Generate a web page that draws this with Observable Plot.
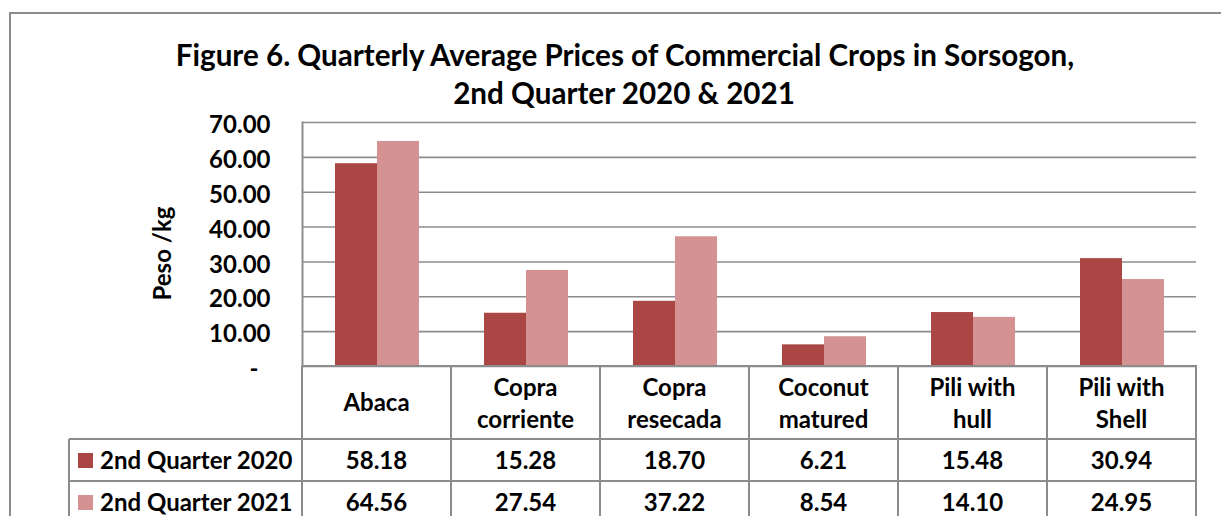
<!DOCTYPE html>
<html>
<head>
<meta charset="utf-8">
<script src="https://cdn.jsdelivr.net/npm/d3@7"></script>
<script src="https://cdn.jsdelivr.net/npm/@observablehq/plot@0.6"></script>
<style>
  body { margin: 0; background: #fff; }
  #wrap { position: relative; width: 1221px; height: 516px; overflow: hidden; font-family: Lato, "Open Sans", sans-serif; font-weight: bold; color: #000; background:#fff; }
  #border { position: absolute; left: 9px; top: 12px; width: 1300px; height: 700px; border: 2px solid #8c8c8c; box-sizing: border-box; }
  .t { position: absolute; white-space: nowrap; line-height: 1.2; }
  .hl { position: absolute; height: 2px; background: #8c8c8c; }
  .vl { position: absolute; width: 2px; background: #8c8c8c; }
  #chart { position: absolute; left: 0; top: 0; }
</style>
</head>
<body>
<div id="wrap">
  <div id="border"></div>
  <div id="chart"></div>
</div>
<script>
// ---- data ----
const titleLines = ["Figure 6. Quarterly Average Prices of Commercial Crops in Sorsogon,", "2nd Quarter 2020 & 2021"];
const yLabel = "Peso /kg";
const categories = ["Abaca", "Copra corriente", "Copra resecada", "Coconut matured", "Pili with hull", "Pili with Shell"];
const categoryLines = [["Abaca"], ["Copra", "corriente"], ["Copra", "resecada"], ["Coconut", "matured"], ["Pili with", "hull"], ["Pili with", "Shell"]];
const seriesNames = ["2nd Quarter 2020", "2nd Quarter 2021"];
const q2020 = [58.18, 15.28, 18.70, 6.21, 15.48, 30.94];
const q2021 = [64.56, 27.54, 37.22, 8.54, 14.10, 24.95];
const yTicks = [0, 10, 20, 30, 40, 50, 60, 70];
const colors = ["#AA4643", "#D49392"];

// ---- build ----
const rows = categories.flatMap((c, i) => [
  {cat: c, series: seriesNames[0], v: q2020[i]},
  {cat: c, series: seriesNames[1], v: q2021[i]}
]);

const FONT = 24;
const TITLE = 29.6;
const chart = Plot.plot({
  width: 1221,
  height: 400,
  marginLeft: 302,
  marginRight: 25,
  marginTop: 122,
  marginBottom: 34,
  style: {fontFamily: "Lato, 'Open Sans', sans-serif", fontWeight: "bold", fontSize: FONT + "px", color: "#000", background: "transparent"},
  x: {domain: categories, padding: 0, axis: null},
  y: {domain: [0, 70], axis: null},
  color: {domain: seriesNames, range: colors},
  marks: [
    Plot.ruleY(yTicks, {stroke: "#8c8c8c", strokeWidth: 1.6}),
    Plot.frame({anchor: "left", stroke: "#8c8c8c", strokeWidth: 2}),
    Plot.barY(rows.filter(d => d.series === seriesNames[0]), {x: "cat", y: "v", fill: "series", insetLeft: 33, insetRight: 74}),
    Plot.barY(rows.filter(d => d.series === seriesNames[1]), {x: "cat", y: "v", fill: "series", insetLeft: 75, insetRight: 32}),
    Plot.axisY(yTicks.filter(t => t !== 0), {tickSize: 0, tickPadding: 32, dy: 3, fontSize: FONT, fontWeight: "bold", fill: "#000",
      tickFormat: d => d.toFixed(2), label: null}),
    Plot.text(yTicks.filter(t => t === 0), {y: d => d, text: () => "-", frameAnchor: "left", textAnchor: "end", dx: -44, dy: 3, fontSize: FONT, fontWeight: "bold", fill: "#000"}),
    Plot.text([yLabel], {frameAnchor: "left", text: d => d, textAnchor: "middle", rotate: -90, dx: -139, dy: 9, fontSize: FONT, fontWeight: "bold", fill: "#000"})
  ]
});
document.getElementById("chart").appendChild(chart);

// ---- title & table (HTML) ----
const wrap = document.getElementById("wrap");
function text(str, cx, cy, size, align = "center") {
  const d = document.createElement("div");
  d.className = "t";
  d.textContent = str;
  d.style.fontSize = size + "px";
  d.style.top = (cy - 0.6245 * size) + "px";
  if (align === "center") { d.style.left = (cx - 1000) + "px"; d.style.width = "2000px"; d.style.textAlign = "center"; }
  else { d.style.left = cx + "px"; }
  wrap.appendChild(d);
  return d;
}
function hline(x1, x2, y) { const d = document.createElement("div"); d.className = "hl"; d.style.left = x1 + "px"; d.style.width = (x2 - x1 + 1) + "px"; d.style.top = (y - 1) + "px"; wrap.appendChild(d); }
function vline(x, y1, y2) { const d = document.createElement("div"); d.className = "vl"; d.style.left = (x - 1) + "px"; d.style.top = y1 + "px"; d.style.height = (y2 - y1) + "px"; wrap.appendChild(d); }

text(titleLines[0], 625, 55, TITLE);
text(titleLines[1], 624, 93, TITLE);

const xs = chart.scale("x");
const ys = chart.scale("y");
const y0 = ys.apply(0);
const bw = xs.bandwidth;
const left = xs.apply(categories[0]);
const right = xs.apply(categories[categories.length - 1]) + bw;
const row1 = y0 + 73, row2 = row1 + 42, bottom = 540;
const legendLeft = 69;

// grid of table
hline(left, right, y0);
hline(legendLeft, right, row1);
hline(legendLeft, right, row2);
vline(legendLeft, row1, bottom);
categories.forEach(c => vline(xs.apply(c), y0, bottom));
vline(right, y0, bottom);

// category header
categories.forEach((c, i) => {
  const cx = xs.apply(c) + bw / 2;
  const lines = categoryLines[i];
  if (lines.length === 1) text(lines[0], cx, (y0 + row1) / 2, FONT);
  else { text(lines[0], cx, y0 + 22, FONT); text(lines[1], cx, y0 + 54, FONT); }
});

// value rows with legend keys
[q2020, q2021].forEach((vals, r) => {
  const cy = (r === 0 ? row1 : row2) + 21.5;
  const sw = document.createElement("div");
  sw.style.cssText = `position:absolute;left:78px;top:${cy - 8}px;width:15px;height:15px;background:${colors[r]}`;
  wrap.appendChild(sw);
  text(seriesNames[r], 100, cy, FONT, "left");
  vals.forEach((v, i) => text(v.toFixed(2), xs.apply(categories[i]) + bw / 2, cy, FONT));
});
</script>
</body>
</html>
